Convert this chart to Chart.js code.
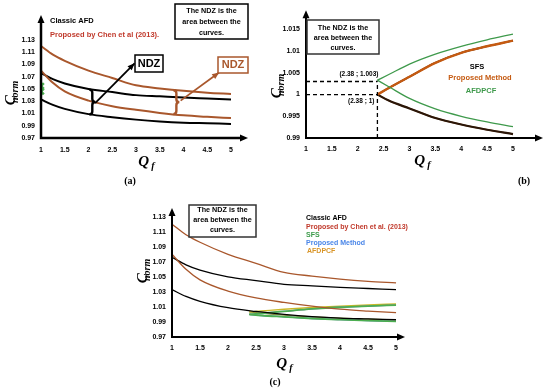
<!DOCTYPE html>
<html lang="en">
<head>
<meta charset="UTF-8">
<title>NDZ curves</title>
<script src="https://cdn.jsdelivr.net/npm/chart.js"></script>
<style>
  body { margin: 0; background: #fff; }
  .wrap { position: relative; width: 550px; height: 389px; overflow: hidden; }
  .wrap canvas { position: absolute; }
  #chartA { left: 0; top: 0; }
  #chartB { left: 265px; top: 0; }
  #chartC { left: 130px; top: 190px; }
</style>
</head>
<body>
<div class="wrap">
  <canvas id="chartA" width="275" height="190"></canvas>
  <canvas id="chartB" width="285" height="190"></canvas>
  <canvas id="chartC" width="300" height="199"></canvas>
</div>

<script>
// ---- data ----
var qf = [1, 1.25, 1.5, 2, 2.5, 3, 3.5, 4, 4.5, 5];
var chenUpper = [1.120, 1.106, 1.096, 1.080, 1.068, 1.056, 1.051, 1.047, 1.044, 1.042];
var chenLower = [1.080, 1.060, 1.046, 1.031, 1.022, 1.016, 1.011, 1.007, 1.0045, 1.0025];
var afdUpper  = [1.076, 1.066, 1.059, 1.050, 1.045, 1.040, 1.038, 1.036, 1.0345, 1.033];
var afdLower  = [1.033, 1.024, 1.0175, 1.009, 1.004, 1.000, 0.997, 0.995, 0.994, 0.993];
var markerY   = [1.046, 1.055];   // green cross on the y axis of (a)

var qfB = [2.38, 2.6, 3, 3.5, 4, 4.5, 5];
var afdpcfUp  = [1.0033, 1.0046, 1.0070, 1.0093, 1.0111, 1.0126, 1.0139];
var afdpcfLow = [1.0033, 1.0018, 0.9991, 0.9967, 0.9950, 0.9937, 0.9926];
var propUp    = [1.0000, 1.0015, 1.0041, 1.0073, 1.0096, 1.0111, 1.0124];
var propLow   = [1.0000, 0.9986, 0.9968, 0.9946, 0.9931, 0.9919, 0.9909];
var sfsUp     = [1.0000, 1.0015, 1.0041, 1.0073, 1.0096, 1.0111, 1.0124];
var sfsLow    = [1.0000, 0.9986, 0.9968, 0.9946, 0.9931, 0.9919, 0.9909];

var xTicks  = [1, 1.5, 2, 2.5, 3, 3.5, 4, 4.5, 5];
var yTicksA = [0.97, 0.99, 1.01, 1.03, 1.05, 1.07, 1.09, 1.11, 1.13];
var yTicksB = [0.99, 0.995, 1, 1.005, 1.01, 1.015];
var kneeX = 2.38, kneeY = [1, 1.003];

var BROWN = '#a9572c';
var RED = '#c0392b';
var GREEN = '#3f9a4c';

function pts(xs, ys) {
  return xs.map(function (x, i) { return { x: x, y: ys[i] }; });
}
function line(label, xs, ys, color, w) {
  return { label: label, data: pts(xs, ys), borderColor: color, borderWidth: w,
           pointRadius: 0, fill: false, cubicInterpolationMode: 'monotone' };
}

// axis titles with subscript
function subTitle(ctx, cx, cy, main, sub, rot) {
  ctx.save();
  ctx.translate(cx, cy);
  if (rot) ctx.rotate(-Math.PI / 2);
  var f1 = 'italic bold 15px "Liberation Serif"', f2 = 'italic bold 10px "Liberation Serif"';
  ctx.font = f1; var w1 = ctx.measureText(main).width - 1.5;
  ctx.font = f2; var w2 = ctx.measureText(sub).width;
  var x = -(w1 + w2) / 2;
  ctx.fillStyle = '#000';
  ctx.textBaseline = 'alphabetic';
  ctx.font = f1; ctx.fillText(main, x, 4);
  ctx.font = f2; ctx.fillText(sub, x + w1, 7);
  ctx.restore();
}
function arrowHead(ctx, x1, y1, x2, y2, len, half) {
  var ang = Math.atan2(y2 - y1, x2 - x1);
  ctx.beginPath();
  ctx.moveTo(x2, y2);
  ctx.lineTo(x2 - len * Math.cos(ang) + half * Math.sin(ang), y2 - len * Math.sin(ang) - half * Math.cos(ang));
  ctx.lineTo(x2 - len * Math.cos(ang) - half * Math.sin(ang), y2 - len * Math.sin(ang) + half * Math.cos(ang));
  ctx.closePath();
  ctx.fill();
}

var decorPlugin = {
  id: 'decor',
  afterDraw: function (chart) {
    var o = chart.options.plugins.decor;
    var ctx = chart.ctx, a = chart.chartArea;
    var sx = chart.scales.x, sy = chart.scales.y;
    ctx.save();

    (o.guides || []).forEach(function (g) {
      ctx.beginPath();
      ctx.setLineDash([4, 3]);
      ctx.lineWidth = 1.3;
      ctx.strokeStyle = '#000';
      ctx.moveTo(sx.getPixelForValue(g[0]), sy.getPixelForValue(g[1]));
      ctx.lineTo(sx.getPixelForValue(g[2]), sy.getPixelForValue(g[3]));
      ctx.stroke();
    });
    ctx.setLineDash([]);

    // axes with arrow heads
    ctx.strokeStyle = '#000'; ctx.fillStyle = '#000';
    ctx.lineWidth = o.axisWidth;
    ctx.beginPath();
    ctx.moveTo(a.left, a.bottom + o.axisWidth / 2);
    ctx.lineTo(a.left, a.top + 6);
    ctx.moveTo(a.left - o.axisWidth / 2, a.bottom);
    ctx.lineTo(a.right - 6, a.bottom);
    ctx.stroke();
    arrowHead(ctx, a.left, a.bottom, a.left, a.top, 8, 3.5);
    arrowHead(ctx, a.left, a.bottom, a.right, a.bottom, 8, 3.5);

    (o.braces || []).forEach(function (b) {
      var x = sx.getPixelForValue(b.x), y1 = sy.getPixelForValue(b.y1), y2 = sy.getPixelForValue(b.y2);
      var ym = (y1 + y2) / 2;
      ctx.strokeStyle = b.color; ctx.lineWidth = 2.4;
      ctx.beginPath();
      ctx.moveTo(x - 3, y1);
      ctx.quadraticCurveTo(x, y1, x, y1 + 3);
      ctx.lineTo(x, ym - 3);
      ctx.quadraticCurveTo(x, ym, x + 3, ym);
      ctx.quadraticCurveTo(x, ym, x, ym + 3);
      ctx.lineTo(x, y2 - 3);
      ctx.quadraticCurveTo(x, y2, x - 3, y2);
      ctx.stroke();
    });

    (o.arrows || []).forEach(function (r) {
      var x1 = sx.getPixelForValue(r.from[0]), y1 = sy.getPixelForValue(r.from[1]);
      var x2 = sx.getPixelForValue(r.to[0]), y2 = sy.getPixelForValue(r.to[1]);
      ctx.strokeStyle = r.color; ctx.fillStyle = r.color; ctx.lineWidth = 1.8;
      ctx.beginPath(); ctx.moveTo(x1, y1); ctx.lineTo(x2, y2); ctx.stroke();
      arrowHead(ctx, x1, y1, x2, y2, 7, 3);
    });

    (o.boxes || []).forEach(function (b) {
      ctx.fillStyle = '#fff';
      ctx.fillRect(b.x, b.y, b.w, b.h);
      ctx.strokeStyle = b.color; ctx.lineWidth = 1.5;
      ctx.strokeRect(b.x, b.y, b.w, b.h);
    });

    (o.texts || []).forEach(function (t) {
      ctx.font = t.font || 'bold 7.5px "Liberation Sans"';
      ctx.fillStyle = t.color || '#000';
      ctx.textAlign = t.align || 'left';
      ctx.textBaseline = 'middle';
      var x = t.x, y = t.y;
      if (t.data) { x = sx.getPixelForValue(t.x) + t.dx; y = sy.getPixelForValue(t.y) + t.dy; }
      ctx.fillText(t.text, x, y);
    });

    subTitle(ctx, o.yTitle[0], o.yTitle[1], 'C', 'norm', true);
    subTitle(ctx, o.xTitle[0], o.xTitle[1], 'Q', 'f', false);

    ctx.font = 'bold 10px "Liberation Serif"';
    ctx.fillStyle = '#000'; ctx.textAlign = 'center'; ctx.textBaseline = 'middle';
    ctx.fillText(o.caption[0], o.caption[1], o.caption[2]);
    ctx.restore();
  }
};

function tickFmt(vals) {
  return function (s) { s.ticks = vals.map(function (v) { return { value: v }; }); };
}
function makeOptions(cfg) {
  return {
    responsive: false,
    animation: false,
    layout: { padding: cfg.pad },
    plugins: { legend: { display: false }, tooltip: { enabled: false }, decor: cfg.decor },
    scales: {
      x: {
        type: 'linear', min: 1, max: cfg.xMax,
        grid: { display: false, drawTicks: false }, border: { display: false },
        afterBuildTicks: tickFmt(xTicks),
        afterFit: function (s) { s.height = cfg.xH; },
        ticks: { padding: cfg.xPad, color: '#000', maxRotation: 0,
                 font: { family: 'Liberation Sans', size: 7, weight: 'bold' },
                 callback: function (v) { return String(v); } }
      },
      y: {
        min: cfg.yMin, max: cfg.yMax,
        grid: { display: false, drawTicks: false }, border: { display: false },
        afterBuildTicks: tickFmt(cfg.yTicks),
        afterFit: function (s) { s.width = cfg.yW; },
        ticks: { padding: 6, color: '#000',
                 font: { family: 'Liberation Sans', size: 7, weight: 'bold' },
                 callback: function (v) { return String(Math.round(v * 1000) / 1000); } }
      }
    }
  };
}

var boxLines = ['The NDZ is the', 'area between the', 'curves.'];
function boxTexts(cx, ys) {
  return boxLines.map(function (s, i) {
    return { text: s, x: cx, y: ys[i], align: 'center', font: 'bold 7.2px "Liberation Sans"' };
  });
}

// ---- (a) ----
new Chart(document.getElementById('chartA'), {
  type: 'line',
  data: {
    datasets: [
      line('Chen upper', qf, chenUpper, BROWN, 2),
      line('Chen lower', qf, chenLower, BROWN, 2),
      line('Classic AFD upper', qf, afdUpper, '#000', 2),
      line('Classic AFD lower', qf, afdLower, '#000', 2),
      { label: 'marker', data: markerY.map(function (y) { return { x: 1, y: y }; }),
        showLine: false, pointStyle: 'crossRot', pointRadius: 4, borderWidth: 2.5,
        borderColor: '#4caf50' }
    ]
  },
  options: makeOptions({
    pad: { top: 15, right: 27, left: 0, bottom: 0 },
    xMax: 5.358, xH: 52, xPad: 8, yW: 41,
    yMin: 0.97, yMax: 1.1708, yTicks: yTicksA,
    decor: {
      axisWidth: 2.5,
      braces: [{ x: 2.08, y1: 1.049, y2: 1.0085, color: '#000' },
               { x: 3.85, y1: 1.048, y2: 1.009, color: BROWN }],
      arrows: [{ from: [2.14, 1.027], to: [2.97, 1.092], color: '#000' },
               { from: [3.94, 1.031], to: [4.75, 1.077], color: BROWN }],
      boxes: [{ x: 175, y: 4, w: 73, h: 35, color: '#000' },
              { x: 135, y: 55, w: 28, h: 17, color: '#000' },
              { x: 218, y: 57, w: 30, h: 16, color: BROWN }],
      texts: [
        { text: 'Classic AFD', x: 50, y: 21 },
        { text: 'Proposed by Chen et al (2013).', x: 50, y: 35, color: RED },
        { text: 'NDZ', x: 149, y: 64, align: 'center', font: 'bold 11px "Liberation Sans"' },
        { text: 'NDZ', x: 233, y: 65, align: 'center', font: 'bold 11px "Liberation Sans"', color: BROWN }
      ].concat(boxTexts(211.5, [11, 22, 33])),
      yTitle: [11, 85], xTitle: [150, 162], caption: ['(a)', 130, 181]
    }
  }),
  plugins: [decorPlugin]
});

// ---- (b) ----
new Chart(document.getElementById('chartB'), {
  type: 'line',
  data: {
    datasets: [
      line('AFDPCF upper', qfB, afdpcfUp, GREEN, 1.3),
      line('AFDPCF lower', qfB, afdpcfLow, GREEN, 1.3),
      line('Proposed upper', qfB, propUp, '#c55a11', 2.4),
      line('SFS upper', qfB, sfsUp, '#000', 1.6),
      line('SFS lower', qfB, sfsLow, '#2a1608', 2.2),
      line('Proposed lower', qfB, propLow, '#b8642a', 1.4)
    ]
  },
  options: makeOptions({
    pad: { top: 4, right: 7, left: 0, bottom: 0 },
    xMax: 5.58, xH: 52, xPad: 7, yW: 41,
    yMin: 0.99, yMax: 1.0194, yTicks: yTicksB,
    decor: {
      axisWidth: 2,
      guides: [[1, kneeY[1], kneeX, kneeY[1]], [1, kneeY[0], kneeX, kneeY[0]], [kneeX, 0.99, kneeX, kneeY[1]]],
      boxes: [{ x: 42, y: 20, w: 72, h: 34, color: '#333' }],
      texts: [
        { text: '(2.38 ; 1.003)', data: true, x: kneeX, y: kneeY[1], dx: 1, dy: -7, align: 'right', font: 'bold 6.5px "Liberation Sans"' },
        { text: '(2.38 ; 1)', data: true, x: kneeX, y: kneeY[0], dx: -3, dy: 7, align: 'right', font: 'bold 6.5px "Liberation Sans"' },
        { text: 'SFS', x: 212, y: 67, align: 'center' },
        { text: 'Proposed Method', x: 215, y: 78, align: 'center', color: '#c55a11' },
        { text: 'AFDPCF', x: 216, y: 91, align: 'center', color: GREEN }
      ].concat(boxTexts(78, [28, 38, 48])),
      yTitle: [12, 78], xTitle: [161, 161], caption: ['(b)', 259, 181]
    }
  }),
  plugins: [decorPlugin]
});

// ---- (c) ----
new Chart(document.getElementById('chartC'), {
  type: 'line',
  data: {
    datasets: [
      line('Chen upper', qf, chenUpper, BROWN, 1.3),
      line('Chen lower', qf, chenLower, BROWN, 1.3),
      line('Classic AFD upper', qf, afdUpper, '#000', 1.3),
      line('Classic AFD lower', qf, afdLower, '#000', 1.3),
      line('SFS upper', qfB, sfsUp, '#4caf50', 1.8),
      line('SFS lower', qfB, sfsLow, '#4caf50', 1.8),
      line('Proposed upper', qfB, propUp, '#7a5ad0', 1.3),
      line('Proposed lower', qfB, propLow, '#5a6ad8', 1.3),
      line('AFDPCF upper', qfB, afdpcfUp, '#c9b82a', 1.4),
      line('AFDPCF lower', qfB, afdpcfLow, '#7d8a3a', 1.3)
    ]
  },
  options: makeOptions({
    pad: { top: 18, right: 25, left: 0, bottom: 0 },
    xMax: 5.16, xH: 52, xPad: 7, yW: 42,
    yMin: 0.97, yMax: 1.1416, yTicks: yTicksA,
    decor: {
      axisWidth: 2,
      boxes: [{ x: 59, y: 15, w: 67, h: 32, color: '#333' }],
      texts: [
        { text: 'Classic AFD', x: 176, y: 28, font: 'bold 7px "Liberation Sans"' },
        { text: 'Proposed by Chen et al. (2013)', x: 176, y: 37, color: RED, font: 'bold 7px "Liberation Sans"' },
        { text: 'SFS', x: 176, y: 45, color: '#3c9a4a', font: 'bold 7px "Liberation Sans"' },
        { text: 'Proposed Method', x: 176, y: 53, color: '#4a86e8', font: 'bold 7px "Liberation Sans"' },
        { text: 'AFDPCF', x: 177, y: 61, color: '#d9962a', font: 'bold 7px "Liberation Sans"' }
      ].concat(boxTexts(92.5, [20, 30, 40])),
      yTitle: [13, 73], xTitle: [158, 174], caption: ['(c)', 145, 192]
    }
  }),
  plugins: [decorPlugin]
});
</script>
</body>
</html>
